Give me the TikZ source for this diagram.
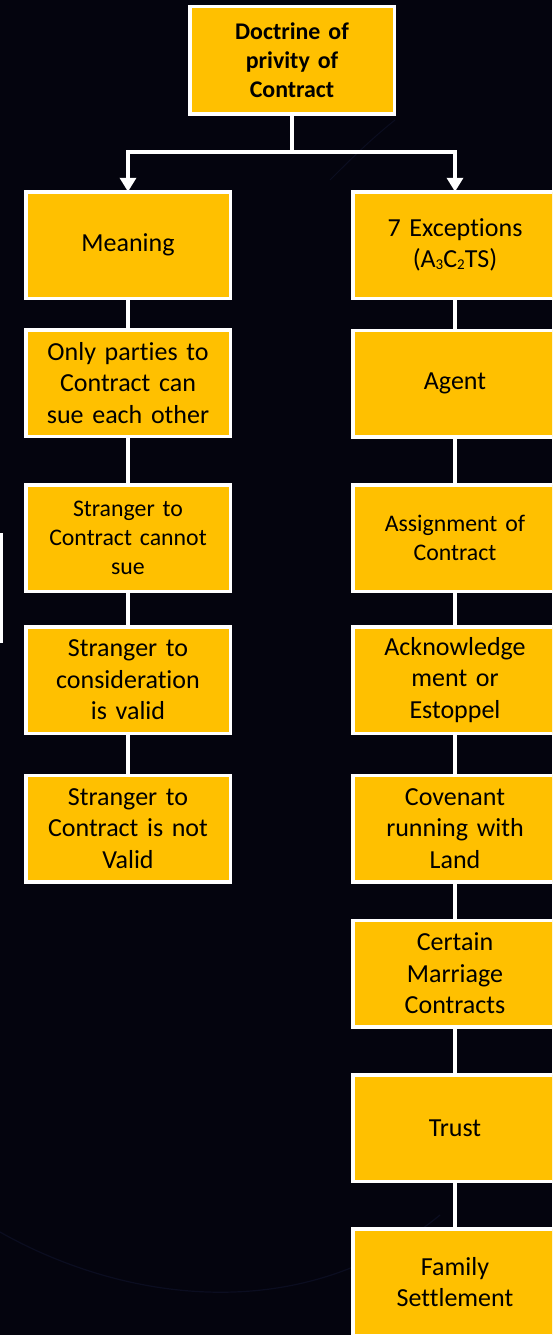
\documentclass[tikz,border=0pt]{standalone}
\usepackage{fontspec}
\setmainfont{Carlito}[Ligatures=NoCommon]
\usetikzlibrary{arrows.meta,positioning}
\definecolor{bg}{HTML}{04040E}
\definecolor{boxyellow}{HTML}{FFC000}
\definecolor{faint}{HTML}{0B0D20}
\newcommand{\lowsub}[1]{\raisebox{-1.5pt}{\fontsize{15}{15}\selectfont #1}}
\tikzset{
  box/.style={draw=white, line width=3.5pt, fill=boxyellow, minimum width=204.5pt,
    minimum height=106.5pt, align=center, text width=196pt, inner sep=0pt,
    text=black, font=\fontsize{26}{31.5}\selectfont},
  smalltext/.style={font=\fontsize{23.8}{29}\selectfont},
  titlebox/.style={box, minimum height=107.5pt, font=\fontsize{23.9}{29}\selectfont\bfseries},
  conn/.style={draw=white, line width=3.5pt},
  arr/.style={conn, -{Triangle[width=16pt,length=14pt]}}
}
\begin{document}
\begin{tikzpicture}[x=1pt,y=-1pt]
\fill[bg] (0,0) rectangle (552,1335);
\useasboundingbox (0,0) rectangle (552,1335);
\clip (0,0) rectangle (552,1335);
% faint background swooshes
\draw[faint, line width=1.2pt] (0,1232) .. controls (120,1300) and (300,1330) .. (440,1215);
\draw[faint, line width=1pt] (330,180) .. controls (350,160) and (370,140) .. (395,120);
% stray left edge line
\draw[white, line width=3pt] (1.5,533) -- (1.5,643);
% nodes
\node[titlebox] (top) at (292,60.5) {Doctrine of\\privity of\\Contract};
\node[box] (meaning) at (128,245) {Meaning};
\node[box] (parties) at (128,383) {Only parties to\\Contract can\\sue each other};
\node[box, smalltext] (cannot) at (128,538) {Stranger to\\Contract cannot\\sue};
\node[box] (consid) at (128,680) {Stranger to\\consideration\\is valid};
\node[box] (notvalid) at (128,828.5) {Stranger to\\Contract is not\\Valid};
\node[box] (exc) at (455,245) {7 Exceptions\\(A\lowsub{3}C\lowsub{2}TS)};
\node[box] (agent) at (455,383.5) {Agent};
\node[box, smalltext] (assign) at (455,538) {Assignment of\\Contract};
\node[box] (ack) at (455,680) {Acknowledge\\ment or\\Estoppel};
\node[box] (cov) at (455,828.5) {Covenant\\running with\\Land};
\node[box] (marr) at (455,973.5) {Certain\\Marriage\\Contracts};
\node[box] (trust) at (455,1128) {Trust};
\node[box] (family) at (455,1282) {Family\\Settlement};
% connectors
\coordinate (j) at (292,152);
\draw[conn] (top.south) -- (j);
\draw[arr] (j) -| ([yshift=-1.75pt]meaning.north);
\draw[arr] (j) -| ([yshift=-1.75pt]exc.north);
\draw[conn] (meaning.south) -- (parties.north);
\draw[conn] (parties.south) -- (cannot.north);
\draw[conn] (cannot.south) -- (consid.north);
\draw[conn] (consid.south) -- (notvalid.north);
\draw[conn] (exc.south) -- (agent.north);
\draw[conn] (agent.south) -- (assign.north);
\draw[conn] (assign.south) -- (ack.north);
\draw[conn] (ack.south) -- (cov.north);
\draw[conn] (cov.south) -- (marr.north);
\draw[conn] (marr.south) -- (trust.north);
\draw[conn] (trust.south) -- (family.north);
\end{tikzpicture}
\end{document}
